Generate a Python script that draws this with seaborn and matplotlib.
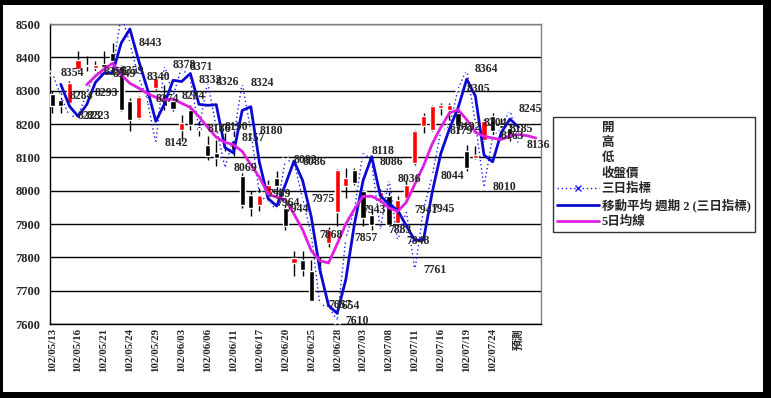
import numpy as np
import pandas as pd
import seaborn as sns
import matplotlib.pyplot as plt
from matplotlib.lines import Line2D
from matplotlib.patches import Rectangle

# category labels (trading days, last one is the forecast)
dates = ['102/05/13', '102/05/14', '102/05/15', '102/05/16', '102/05/17',
         '102/05/20', '102/05/21', '102/05/22', '102/05/23', '102/05/24',
         '102/05/27', '102/05/28', '102/05/29', '102/05/30', '102/05/31',
         '102/06/03', '102/06/04', '102/06/05', '102/06/06', '102/06/07',
         '102/06/10', '102/06/11', '102/06/13', '102/06/14', '102/06/17',
         '102/06/18', '102/06/19', '102/06/20', '102/06/21', '102/06/24',
         '102/06/25', '102/06/26', '102/06/27', '102/06/28', '102/07/01',
         '102/07/02', '102/07/03', '102/07/04', '102/07/05', '102/07/08',
         '102/07/09', '102/07/10', '102/07/11', '102/07/12', '102/07/15',
         '102/07/16', '102/07/17', '102/07/18', '102/07/19', '102/07/22',
         '102/07/23', '102/07/24', '102/07/25', '102/07/26', '預測', '', '']

# candlestick data (開 高 低 收盤價)
opens = [8290, 8272, 8263, 8365, 8378, 8368, 8380, 8413, 8373, 8268,
         8218, 8283, 8308, 8290, 8268, 8183, 8243, 8193, 8138, 8113,
         8150, 8153, 8043, 7988, 7958, 7983, 8038, 7948, 7783, 7793,
         7758, 7770, 7843, 7935, 8013, 8063, 7998, 7928, 7980, 7983,
         7903, 7978, 8083, 8193, 8183, 8248, 8243, 8233, 8118, 8098,
         8153, 8223, 8198, 8188]
highs = [8300, 8293, 8328, 8418, 8403, 8388, 8418, 8443, 8378, 8278,
         8285, 8290, 8345, 8318, 8280, 8228, 8258, 8208, 8163, 8153,
         8172, 8178, 8053, 7998, 8008, 8033, 8058, 7958, 7818, 7818,
         7793, 7800, 7890, 8065, 8068, 8068, 8003, 7943, 8005, 7995,
         7983, 8030, 8183, 8233, 8258, 8263, 8263, 8243, 8138, 8133,
         8215, 8233, 8218, 8203]
lows = [8233, 8233, 8253, 8358, 8358, 8358, 8358, 8388, 8238, 8178,
        8215, 8265, 8303, 8243, 8238, 8148, 8183, 8163, 8093, 8073,
        8120, 8103, 7948, 7923, 7938, 7973, 7988, 7883, 7743, 7743,
        7668, 7750, 7830, 7893, 7978, 8018, 7893, 7883, 7965, 7893,
        7890, 7968, 8078, 8173, 8178, 8228, 8213, 8173, 8058, 8095,
        8150, 8163, 8163, 8148]
closes = [8255, 8253, 8323, 8392, 8373, 8378, 8372, 8390, 8243, 8213,
          8281, 8272, 8338, 8253, 8245, 8203, 8198, 8183, 8103, 8098,
          8140, 8123, 7958, 7948, 7988, 8018, 8013, 7893, 7798, 7763,
          7668, 7765, 7883, 8063, 8038, 8023, 7918, 7898, 7995, 7898,
          7973, 8018, 8178, 8223, 8253, 8258, 8258, 8193, 8068, 8108,
          8208, 8178, 8178, 8158]

# 三日指標
tri = [8354, 8284, 8223, 8223, 8293, 8356, 8349, 8359, 8527, 8443,
       8340, 8274, 8142, 8378, 8284, 8371, 8332, 8186, 8326, 8190,
       8069, 8157, 8324, 8180, 7989, 7964, 7944, 8092, 8086, 7975,
       7868, 7657, 7654, 7610, 7857, 7943, 8118, 8086, 7883, 8036,
       7848, 7941, 7761, 7945, 8044, 8179, 8192, 8305, 8364, 8204,
       8010, 8163, 8185, 8245, 8136]

# 5日均線 (starts at the 5th day)
ma5 = [8318, 8343, 8365, 8382, 8348, 8322, 8308, 8292, 8280, 8272,
       8275, 8262, 8250, 8222, 8190, 8160, 8145, 8138, 8118, 8078,
       8040, 7990, 7980, 7973, 7930, 7883, 7820, 7790, 7783, 7840,
       7900, 7945, 7983, 7983, 7970, 7948, 7938, 7965, 8020, 8075,
       8140, 8190, 8233, 8243, 8213, 8175, 8163, 8158, 8153, 8165,
       8168, 8165, 8158]

candles = pd.DataFrame({'open': opens, 'high': highs, 'low': lows, 'close': closes})
candles['i'] = np.arange(len(candles))
ind = pd.DataFrame({'i': np.arange(len(tri)), 'tri': tri})
ind['ma2'] = ind['tri'].rolling(2).mean()
avg5 = pd.DataFrame({'i': np.arange(4, 4 + len(ma5)), 'ma5': ma5})

sns.set_style('white')
plt.rcParams['font.family'] = ['Liberation Serif', 'Noto Sans CJK TC']

fig = plt.figure(figsize=(7.71, 3.98), dpi=100, facecolor='black')
fig.patches.append(Rectangle((3 / 771, 6 / 398), 760 / 771, 387 / 398,
                             transform=fig.transFigure, facecolor='white',
                             edgecolor='none', zorder=-1))
ax = fig.add_axes([50 / 771, 74 / 398, 491 / 771, 300 / 398])

# candles
up = candles['close'] >= candles['open']
body = (candles['close'] - candles['open']).abs().clip(lower=3)
ax.vlines(candles['i'], candles['low'], candles['high'], color='black', lw=1, zorder=2)
ax.bar(candles['i'], body, bottom=candles[['open', 'close']].min(axis=1),
       width=0.6, color=np.where(up, '#ff0000', '#000000'), zorder=3)

# lines
sns.lineplot(data=ind, x='i', y='tri', ax=ax, color='#1a1aff', lw=1,
             linestyle=(0, (1, 2)), marker='x', markersize=5, mew=1, zorder=4)
sns.lineplot(data=ind, x='i', y='ma2', ax=ax, color='#0a0ad0', lw=2, zorder=5)
sns.lineplot(data=avg5, x='i', y='ma5', ax=ax, color='#e020e0', lw=2, zorder=5)

for i, v in zip(ind['i'], ind['tri']):
    if 7600 <= v <= 8500:
        ax.annotate(str(v), (i, v), xytext=(6, 0), textcoords='offset points',
                    ha='left', va='center', fontsize=8.5, fontweight='bold', zorder=6)

ax.set_xlim(-0.25, 56.6)
ax.set_ylim(7600, 8500)
ax.set_yticks(range(7600, 8501, 100))
ax.set_yticklabels([str(v) for v in range(7600, 8501, 100)], fontsize=9, fontweight='bold')
ax.set_xticks(range(0, 55, 3))
ax.set_xticklabels([dates[k] for k in range(0, 55, 3)], rotation=90,
                   fontsize=7.8, fontweight='bold')
ax.set_xticks(np.arange(0, 57) - 0.25, minor=True)
ax.tick_params(axis='x', which='major', length=0, pad=3)
ax.tick_params(axis='x', which='minor', length=3, direction='in', color='black')
ax.tick_params(axis='y', length=0, pad=7)
ax.set_xlabel('')
ax.set_ylabel('')

ax.set_axisbelow(True)
ax.yaxis.grid(True, color='black', lw=1)
ax.xaxis.grid(False)
for s in ['top', 'right']:
    ax.spines[s].set_color('#808080')
for s in ['left', 'bottom']:
    ax.spines[s].set_color('black')
for s in ax.spines.values():
    s.set_linewidth(1)

handles = [Line2D([], [], ls='none') for _ in range(4)] + [
    Line2D([], [], color='#1a1aff', ls=(0, (1, 2)), marker='x', ms=5, lw=1),
    Line2D([], [], color='#0a0ad0', lw=2),
    Line2D([], [], color='#e020e0', lw=2)]
labels = ['開', '高', '低', '收盤價', '三日指標', '移動平均 週期 2 (三日指標)', '5日均線']
leg = fig.legend(handles, labels, loc='upper left',
                 bbox_to_anchor=(553 / 771, 1 - 117 / 398),
                 frameon=True, fancybox=False, edgecolor='black',
                 prop={'size': 9, 'weight': 'bold'},
                 handlelength=3.3, handletextpad=0.25, labelspacing=0.27,
                 borderpad=0.35, borderaxespad=0)
leg.get_frame().set_linewidth(1)

fig.savefig('out.png', dpi=100, facecolor='black')
